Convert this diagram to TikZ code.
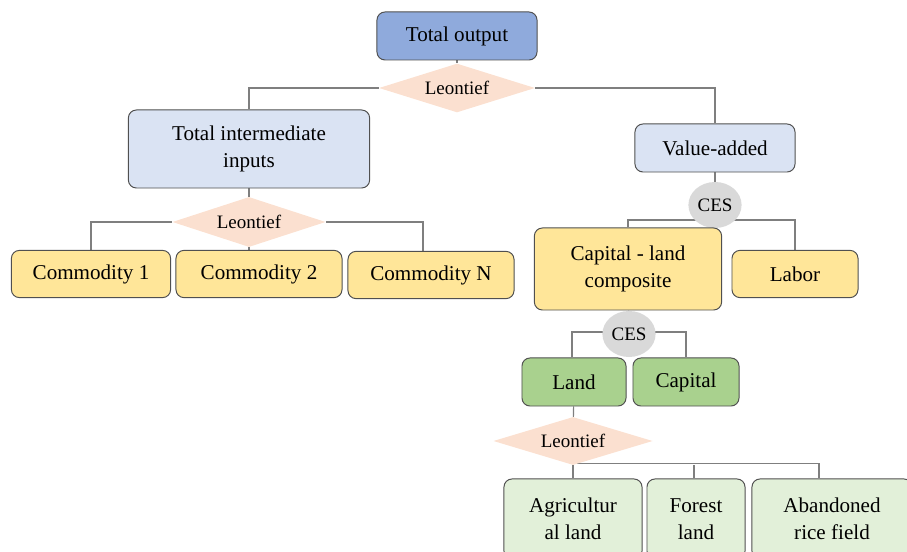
\documentclass[tikz,border=0pt]{standalone}
\usepackage{fontspec}
\setmainfont{Liberation Serif}
\usetikzlibrary{backgrounds, positioning, shapes.geometric}

\definecolor{boxline}{HTML}{505050}
\definecolor{linkgray}{HTML}{7F7F7F}
\definecolor{topblue}{HTML}{8FAADC}
\definecolor{paleblue}{HTML}{DAE3F3}
\definecolor{paleyellow}{HTML}{FFE699}
\definecolor{midgreen}{HTML}{A9D18E}
\definecolor{palegreen}{HTML}{E2F0D9}
\definecolor{peach}{HTML}{FBE0D0}
\definecolor{cesgray}{HTML}{D9D9D9}

\begin{document}
\begin{tikzpicture}[x=0.025cm, y=0.025cm,
            roundnode/.style={rectangle, rounded corners=0.2cm, draw=boxline, line width=0.7pt, inner sep=0pt, align=center, font=\fontsize{15}{19}\selectfont},
            outnode/.style={roundnode, fill=topblue},
            bluenode/.style={roundnode, fill=paleblue},
            yellownode/.style={roundnode, fill=paleyellow},
            greennode/.style={roundnode, fill=midgreen},
            leafnode/.style={roundnode, fill=palegreen},
            leonnode/.style={diamond, shape aspect=3.2, fill=peach, draw=none, inner sep=0pt, minimum width=3.9cm, minimum height=1.22cm, font=\fontsize{13.5}{16}\selectfont},
            cesnode/.style={ellipse, fill=cesgray, draw=none, inner sep=0pt, minimum width=1.33cm, minimum height=1.15cm, font=\fontsize{13.5}{16}\selectfont},
            conn/.style={draw=linkgray, line width=0.8pt},
            ]
            \path[use as bounding box, clip] (0,0) rectangle (907,552);

            %Nodes
            \node[outnode, minimum width=4cm, minimum height=1.2cm]        (out)     at (457,516) {Total output};
            \node[leonnode]                                                (leo1)    at (457,464) {Leontief};
            \node[bluenode, minimum width=6.03cm, minimum height=1.95cm]   (tii)     at (249,403) {Total intermediate\\ inputs};
            \node[bluenode, minimum width=4cm, minimum height=1.2cm]       (va)      at (715,404) {Value-added};

            \node[leonnode, minimum width=3.83cm, minimum height=1.25cm]   (leo2)    at (249,330) {Leontief};
            \node[yellownode, minimum width=3.98cm, minimum height=1.18cm] (com1)    at (91,278) {Commodity 1};
            \node[yellownode, minimum width=4.15cm, minimum height=1.18cm] (com2)    at (259,278) {Commodity 2};
            \node[yellownode, minimum width=4.15cm, minimum height=1.18cm] (comN)    at (431,277) {Commodity N};

            \node[cesnode]                                                 (ces1)    at (715,347) {CES};
            \node[yellownode, minimum width=4.68cm, minimum height=2.05cm] (capl)    at (628,283) {Capital - land\\ composite};
            \node[yellownode, minimum width=3.15cm, minimum height=1.18cm] (labor)   at (795,278) {Labor};

            \node[cesnode]                                                 (ces2)    at (629,218) {CES};
            \node[greennode, minimum width=2.6cm, minimum height=1.2cm]    (land)    at (574,170) {Land};
            \node[greennode, minimum width=2.65cm, minimum height=1.2cm]   (capital) at (686,170) {Capital};

            \node[leonnode, minimum width=3.98cm, minimum height=1.2cm]    (leo3)    at (573,111) {Leontief};
            \node[leafnode, minimum width=3.45cm, minimum height=2cm]      (agri)    at (573,33)  {Agricultur\\ al land};
            \node[leafnode, minimum width=2.45cm, minimum height=2cm]      (forest)  at (696,33)  {Forest\\ land};
            \node[leafnode, minimum width=4cm, minimum height=2cm]         (aband)   at (832,33)  {Abandoned\\ rice field};

            %Lines
            \begin{scope}[on background layer]
            \draw[conn] (out) -- (leo1);
            \draw[conn] (leo1.west) -| (tii.north);
            \draw[conn] (leo1.east) -| (va.north);

            \draw[conn] (tii) -- (leo2);
            \draw[conn] (leo2.west) -| (com1.north);
            \draw[conn] (leo2.east) -| ([xshift=-0.2cm]comN.north);
            \draw[conn] (leo2.south) -- (leo2.south |- com2.north);

            \draw[conn] (va) -- (ces1);
            \draw[conn] (capl.north) |- ([yshift=-0.375cm]ces1.center) -| (labor.north);

            \draw[conn] (capl) -- (ces2);
            \draw[conn] ([xshift=-0.05cm]land.north) |- ([yshift=0.05cm]ces2.center) -| (capital.north);

            \draw[conn] (land) -- (leo3);
            \draw[conn] (leo3) -- (agri);
            \draw[conn] ([yshift=0.05cm]leo3.south) -| ([xshift=-0.325cm]aband.north);
            \draw[conn] ([xshift=-0.05cm]forest.north) -- ([xshift=-0.05cm]forest.north |- leo3.south);
            \end{scope}
          \end{tikzpicture}
\end{document}
